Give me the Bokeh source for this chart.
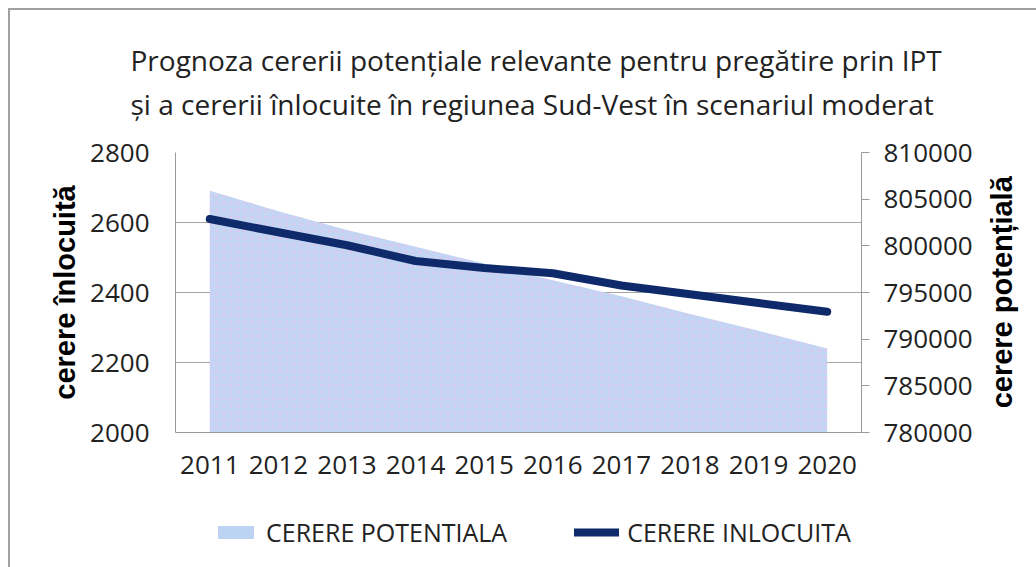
import math
from bokeh.plotting import figure
from bokeh.layouts import column
from bokeh.models import (Range1d, LinearAxis, FixedTicker, Legend, LegendItem, FactorRange,
                          BasicTickFormatter)
from bokeh.embed import file_html
from bokeh.resources import INLINE

years = ["2011", "2012", "2013", "2014", "2015", "2016", "2017", "2018", "2019", "2020"]
cerere_potentiala = [805900, 803700, 801700, 799900, 798100, 796300, 794600, 792700, 790900, 789000]
cerere_inlocuita = [2610, 2572, 2535, 2490, 2470, 2455, 2420, 2395, 2370, 2345]
left_ticks = [2000, 2200, 2400, 2600, 2800]
right_ticks = [780000, 785000, 790000, 795000, 800000, 805000, 810000]
title_lines = ["Prognoza cererii potențiale relevante pentru pregătire prin IPT",
               "și a cererii înlocuite în regiunea Sud-Vest în scenariul moderat"]
series_names = ["CERERE POTENTIALA", "CERERE INLOCUITA"]

FONT = "Open Sans"
LFONT = "Liberation Sans"
W = 1026
H1, H2 = 490, 67
AREA_COLOR = "#c4d5f4"
LINE_COLOR = "#0f2a6b"
TXT = "#222222"
GRID = "#a6a6a6"

p = figure(x_range=FactorRange(*years), y_range=Range1d(2000, 2800),
           width=W, height=H1, output_backend="svg", toolbar_location=None,
           min_border_left=165, min_border_right=174, min_border_top=138, min_border_bottom=68)
p.extra_y_ranges = {"right": Range1d(780000, 810000)}
p.outline_line_color = None

n = len(years)
area = p.varea(x=years, y1=[780000] * n, y2=cerere_potentiala, y_range_name="right",
               fill_color=AREA_COLOR, fill_alpha=1.0)
p.varea(x=years, y1=[780000] * n, y2=cerere_potentiala, y_range_name="right",
        fill_color=None, hatch_pattern="dot", hatch_color="#e6c2ea", hatch_alpha=0.6, hatch_scale=7)
line = p.line(x=years, y=cerere_inlocuita, line_color=LINE_COLOR, line_width=8,
              line_cap="round", line_join="round")

# left axis
ax = p.yaxis[0]
ax.ticker = FixedTicker(ticks=left_ticks)
ax.axis_label = "cerere înlocuită"
ax.axis_label_text_font = LFONT
ax.axis_label_text_font_style = "bold"
ax.axis_label_text_font_size = "29px"
ax.axis_label_text_color = "black"
ax.axis_label_standoff = 6
ax.major_label_text_font = FONT
ax.major_label_text_font_size = "26px"
ax.major_label_text_color = TXT
ax.major_label_standoff = 26
ax.major_tick_in = 0
ax.major_tick_out = 0
ax.minor_tick_in = 0
ax.minor_tick_out = 0
ax.axis_line_color = "#9a9a9a"

# right axis
rax = LinearAxis(y_range_name="right", ticker=FixedTicker(ticks=right_ticks),
                 formatter=BasicTickFormatter(use_scientific=False))
rax.axis_label = "\u00a0\u00a0\u00a0cerere potențială"
rax.axis_label_text_font = LFONT
rax.axis_label_text_font_style = "bold"
rax.axis_label_text_font_size = "29px"
rax.axis_label_text_color = "black"
rax.axis_label_standoff = 26
rax.axis_label_orientation = math.pi / 2
try:
    rax.axis_label_align = "start"
except Exception:
    pass
rax.major_label_text_font = FONT
rax.major_label_text_font_size = "26px"
rax.major_label_text_color = TXT
rax.major_label_standoff = 14
rax.major_tick_in = 0
rax.major_tick_out = 8
rax.minor_tick_in = 0
rax.minor_tick_out = 0
rax.axis_line_color = "#9a9a9a"
rax.major_tick_line_color = "#9a9a9a"
p.add_layout(rax, "right")

# x axis
xa = p.xaxis[0]
xa.major_label_text_font = FONT
xa.major_label_text_font_size = "26px"
xa.major_label_text_color = TXT
xa.major_label_standoff = 23
xa.major_tick_in = 0
xa.major_tick_out = 0
xa.axis_line_color = "#9a9a9a"

p.xgrid.grid_line_color = None
p.ygrid.grid_line_color = GRID
p.ygrid.ticker = FixedTicker(ticks=left_ticks)

# two-line title
p.title.text = "\n".join(title_lines)
p.title.align = "left"
p.title.offset = -45
p.title.standoff = 58
p.title.text_font = FONT
p.title.text_font_size = "28px"
p.title.text_font_style = "normal"
p.title.text_color = TXT
p.title.text_line_height = 1.16

# legend strip below the chart (same series, off-range, used only for the legend)
leg = figure(x_range=FactorRange(*years), y_range=Range1d(0, 1), width=W, height=H2,
             output_backend="svg", toolbar_location=None, x_axis_location=None,
             y_axis_location=None, min_border=0)
leg.outline_line_color = None
leg.grid.visible = False
la = leg.varea(x=years, y1=[780000] * n, y2=cerere_potentiala, fill_color="#bcd3f4")
ll = leg.line(x=years, y=cerere_inlocuita, line_color=LINE_COLOR, line_width=8, line_cap="round")
legend = Legend(items=[LegendItem(label=series_names[0], renderers=[la]),
                       LegendItem(label=series_names[1], renderers=[ll])],
                orientation="horizontal", location=(38, 18))
legend.label_text_font = FONT
legend.label_text_font_size = "25px"
legend.label_text_color = TXT
legend.glyph_width = 45
legend.glyph_height = 16
legend.label_standoff = 8
legend.spacing = 67
legend.padding = 0
legend.margin = 0
legend.border_line_color = None
legend.background_fill_alpha = 0
leg.add_layout(legend, "center")

layout = column(p, leg, spacing=0)
layout.styles = {"border-left": "2px solid #a0a0a0", "border-top": "2px solid #a0a0a0",
                 "margin-left": "8px", "margin-top": "8px"}

open("out.html", "w").write(file_html(layout, INLINE))
